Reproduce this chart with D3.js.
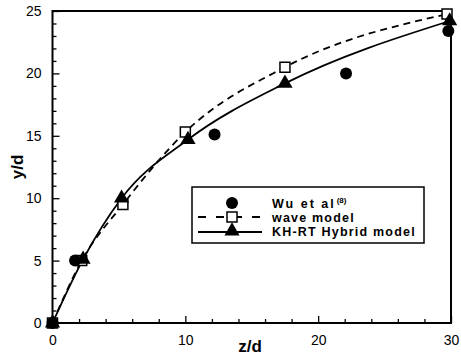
<!DOCTYPE html>
<html><head><meta charset="utf-8">
<script src="https://cdn.jsdelivr.net/npm/d3@7"></script>
<style>body{margin:0;background:#fff}</style>
</head><body>
<svg id="c" width="461" height="358"></svg>
<script>
const wuZ = [0, 1.7, 12.2, 22.1, 29.8];
const wuY = [0, 5.0, 15.1, 20.0, 23.4];
const waveZ = [0, 2.2, 5.3, 10.0, 17.5, 29.7];
const waveY = [0, 5.0, 9.5, 15.3, 20.5, 24.75];
const khZ = [0, 2.3, 5.2, 10.2, 17.5, 29.9];
const khY = [0, 5.1, 10.0, 14.7, 19.2, 24.2];
const xTicks = [0, 10, 20, 30];
const yTicks = [0, 5, 10, 15, 20, 25];
const legendLabels = ["Wu et al", "wave model", "KH-RT Hybrid model"];

const svg = d3.select("#c");
const x = d3.scaleLinear().domain([0, 30]).range([52.5, 451]);
const y = d3.scaleLinear().domain([0, 25]).range([323, 11]);
const font = "Liberation Sans, Arial, sans-serif";

// frame
svg.append("rect").attr("x", x(0)).attr("y", y(25)).attr("width", x(30) - x(0)).attr("height", y(0) - y(25))
  .attr("fill", "none").attr("stroke", "#000").attr("stroke-width", 2);

// axes ticks inward
const xAxis = d3.axisBottom(x).tickValues(xTicks).tickSize(-7).tickPadding(12);
svg.append("g").attr("transform", `translate(0,${y(0)})`).call(xAxis);
const xMinor = d3.axisBottom(x).tickValues(d3.range(0, 31, 2).filter(v => v % 10)).tickSize(-4).tickFormat("");
svg.append("g").attr("transform", `translate(0,${y(0)})`).call(xMinor);
const yAxis = d3.axisLeft(y).tickValues(yTicks).tickSize(-7).tickPadding(11);
svg.append("g").attr("transform", `translate(${x(0)},0)`).call(yAxis);
const yMinor = d3.axisLeft(y).tickValues(d3.range(0, 26, 1).filter(v => v % 5)).tickSize(-4).tickFormat("");
svg.append("g").attr("transform", `translate(${x(0)},0)`).call(yMinor);
svg.selectAll(".domain").remove();
svg.selectAll(".tick line").attr("stroke", "#000").attr("stroke-width", 1.3);
svg.selectAll(".tick text").attr("font-family", font).attr("font-size", 14).attr("fill", "#000");

// axis titles
svg.append("text").attr("x", 250).attr("y", 352).attr("text-anchor", "middle")
  .attr("font-family", font).attr("font-weight", "bold").attr("font-size", 17).text("z/d");
svg.append("text").attr("transform", "translate(23,167) rotate(-90)").attr("text-anchor", "middle")
  .attr("font-family", font).attr("font-weight", "bold").attr("font-size", 17).text("y/d");

// lines
const line = d3.line().x(d => x(d[0])).y(d => y(d[1])).curve(d3.curveMonotoneX);
const waveData = waveZ.map((z, i) => [z, waveY[i]]);
const khData = khZ.map((z, i) => [z, khY[i]]);
const wuData = wuZ.map((z, i) => [z, wuY[i]]);
svg.append("path").attr("d", line(waveData)).attr("fill", "none").attr("stroke", "#000")
  .attr("stroke-width", 1.8).attr("stroke-dasharray", "7,5");
svg.append("path").attr("d", line(khData)).attr("fill", "none").attr("stroke", "#000").attr("stroke-width", 1.8);

// markers
const sq = d3.symbol().type(d3.symbolSquare).size(100);
const tri = d3.symbol().type(d3.symbolTriangle).size(100);
svg.selectAll(".wave").data(waveData).join("path").attr("d", sq)
  .attr("transform", d => `translate(${x(d[0])},${y(d[1])})`)
  .attr("fill", "#fff").attr("stroke", "#000").attr("stroke-width", 1.5);
svg.selectAll(".kh").data(khData).join("path").attr("d", tri)
  .attr("transform", d => `translate(${x(d[0])},${y(d[1])})`).attr("fill", "#000");
svg.selectAll(".wu").data(wuData).join("circle")
  .attr("cx", d => x(d[0])).attr("cy", d => y(d[1])).attr("r", 6).attr("fill", "#000");

// legend
const lg = svg.append("g");
lg.append("rect").attr("x", 192).attr("y", 187).attr("width", 232).attr("height", 56)
  .attr("fill", "#fff").attr("stroke", "#000").attr("stroke-width", 1.5);
const rowsY = [203, 217, 231];
const sx = 232;
lg.append("circle").attr("cx", sx).attr("cy", rowsY[0]).attr("r", 6).attr("fill", "#000");
lg.append("line").attr("x1", 198).attr("x2", 262).attr("y1", rowsY[1]).attr("y2", rowsY[1])
  .attr("stroke", "#000").attr("stroke-width", 1.8).attr("stroke-dasharray", "8,10");
lg.append("path").attr("d", sq).attr("transform", `translate(${sx},${rowsY[1]})`)
  .attr("fill", "#fff").attr("stroke", "#000").attr("stroke-width", 1.5);
lg.append("line").attr("x1", 198).attr("x2", 262).attr("y1", rowsY[2] + 1).attr("y2", rowsY[2] + 1)
  .attr("stroke", "#000").attr("stroke-width", 1.8);
lg.append("path").attr("d", tri).attr("transform", `translate(${sx},${rowsY[2]})`).attr("fill", "#000");
legendLabels.forEach((t, i) => {
  const tx = lg.append("text").attr("x", 272).attr("y", rowsY[i] + 4.5)
    .attr("font-family", font).attr("font-weight", "bold").attr("font-size", 12.5)
    .attr("letter-spacing", i === 0 ? 2 : 1.2).text(t);
  if (i === 0) tx.append("tspan").attr("dy", -5).attr("dx", 1).attr("font-size", 8).attr("letter-spacing", 0).text("(8)");
});
</script>
</body></html>
